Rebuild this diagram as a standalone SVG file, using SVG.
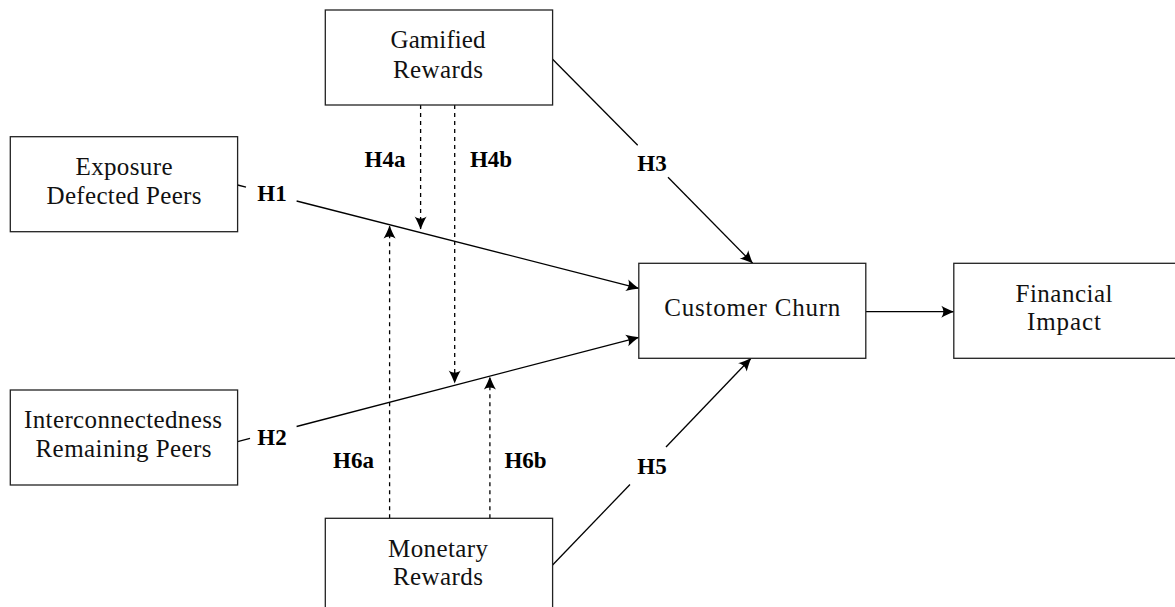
<svg xmlns="http://www.w3.org/2000/svg" width="1175" height="607" viewBox="0 0 1175 607">
  <style>
    .box { fill: #fff; stroke: #222; stroke-width: 1.3; }
    .lbl { font-family: "Liberation Serif", "DejaVu Serif", serif; font-size: 25px; fill: #111; text-anchor: middle; }
    .hyp { font-family: "Liberation Serif", "DejaVu Serif", serif; font-size: 23px; font-weight: bold; fill: #000; text-anchor: middle; }
    .edge { fill: none; stroke: #000; stroke-width: 1.3; }
    .dash { stroke-dasharray: 4 4; }
  </style>
  <defs>
    <!-- filled stealth-style arrow tip with a curved notch -->
    <marker id="arrow" markerUnits="userSpaceOnUse" markerWidth="18" markerHeight="16" viewBox="-15 -8 18 16" refX="0" refY="0" orient="auto">
      <path d="M0.5,0 C-4,-1.6 -8.5,-3.8 -12.5,-6 C-9.8,-2.2 -9.8,2.2 -12.5,6 C-8.5,3.8 -4,1.6 0.5,0 Z" fill="#000" stroke="none"/>
    </marker>
  </defs>
  <rect width="1175" height="607" fill="#fff"/>

  <!-- connectors -->
  <g id="connectors">
    <!-- H1: exposure -> churn -->
    <line class="edge" x1="237.6" y1="185" x2="246" y2="187.2"/>
    <line class="edge" x1="296.6" y1="201" x2="638.8" y2="288.3" marker-end="url(#arrow)"/>
    <!-- H2: interconnectedness -> churn -->
    <line class="edge" x1="237.6" y1="441.7" x2="250" y2="438.4"/>
    <line class="edge" x1="296.6" y1="426.5" x2="638.8" y2="337.3" marker-end="url(#arrow)"/>
    <!-- H3: gamified -> churn -->
    <line class="edge" x1="552.6" y1="59.3" x2="637.7" y2="145.3"/>
    <line class="edge" x1="668" y1="177.3" x2="752.7" y2="263.3" marker-end="url(#arrow)"/>
    <!-- H5: monetary -> churn -->
    <line class="edge" x1="552.6" y1="565" x2="630" y2="484.5"/>
    <line class="edge" x1="666" y1="447" x2="751" y2="358.3" marker-end="url(#arrow)"/>
    <!-- churn -> financial impact -->
    <line class="edge" x1="865.8" y1="311.7" x2="953.8" y2="311.7" marker-end="url(#arrow)"/>
    <!-- moderation paths -->
    <line class="edge dash" x1="420.6" y1="105" x2="420.6" y2="229" marker-end="url(#arrow)"/>
    <line class="edge dash" x1="454.7" y1="105" x2="454.7" y2="383" marker-end="url(#arrow)"/>
    <line class="edge dash" x1="389.6" y1="518.3" x2="389.6" y2="226" marker-end="url(#arrow)"/>
    <line class="edge dash" x1="489.9" y1="518.3" x2="489.9" y2="377" marker-end="url(#arrow)"/>
    <!-- hypothesis labels -->
    <text class="hyp" x="272" y="201">H1</text>
    <text class="hyp" x="272" y="445">H2</text>
    <text class="hyp" x="652" y="171">H3</text>
    <text class="hyp" x="385" y="167">H4a</text>
    <text class="hyp" x="491" y="167">H4b</text>
    <text class="hyp" x="652" y="474">H5</text>
    <text class="hyp" x="353.5" y="468">H6a</text>
    <text class="hyp" x="525.5" y="468">H6b</text>
  </g>

  <g id="gamified">
    <rect class="box" x="325.3" y="10" width="227.3" height="95"/>
    <text class="lbl" x="438" y="48" textLength="95" lengthAdjust="spacing">Gamified</text>
    <text class="lbl" x="438" y="78" textLength="90" lengthAdjust="spacing">Rewards</text>
  </g>
  <g id="exposure">
    <rect class="box" x="10.3" y="136.7" width="227.3" height="95"/>
    <text class="lbl" x="124" y="175" textLength="97" lengthAdjust="spacing">Exposure</text>
    <text class="lbl" x="124" y="204" textLength="155" lengthAdjust="spacing">Defected Peers</text>
  </g>
  <g id="interconnectedness">
    <rect class="box" x="10.3" y="390" width="227.3" height="95"/>
    <text class="lbl" x="123" y="428" textLength="198" lengthAdjust="spacing">Interconnectedness</text>
    <text class="lbl" x="123.5" y="457" textLength="176" lengthAdjust="spacing">Remaining Peers</text>
  </g>
  <g id="monetary">
    <rect class="box" x="325.3" y="518.3" width="227.3" height="95"/>
    <text class="lbl" x="438" y="557" textLength="100" lengthAdjust="spacing">Monetary</text>
    <text class="lbl" x="438" y="585" textLength="90" lengthAdjust="spacing">Rewards</text>
  </g>
  <g id="churn">
    <rect class="box" x="638.8" y="263.3" width="227" height="95"/>
    <text class="lbl" x="752.3" y="316" textLength="176" lengthAdjust="spacing">Customer Churn</text>
  </g>
  <g id="financial">
    <rect class="box" x="953.8" y="263.3" width="227" height="95"/>
    <text class="lbl" x="1064" y="302" textLength="97" lengthAdjust="spacing">Financial</text>
    <text class="lbl" x="1064" y="330" textLength="74" lengthAdjust="spacing">Impact</text>
  </g>
</svg>
